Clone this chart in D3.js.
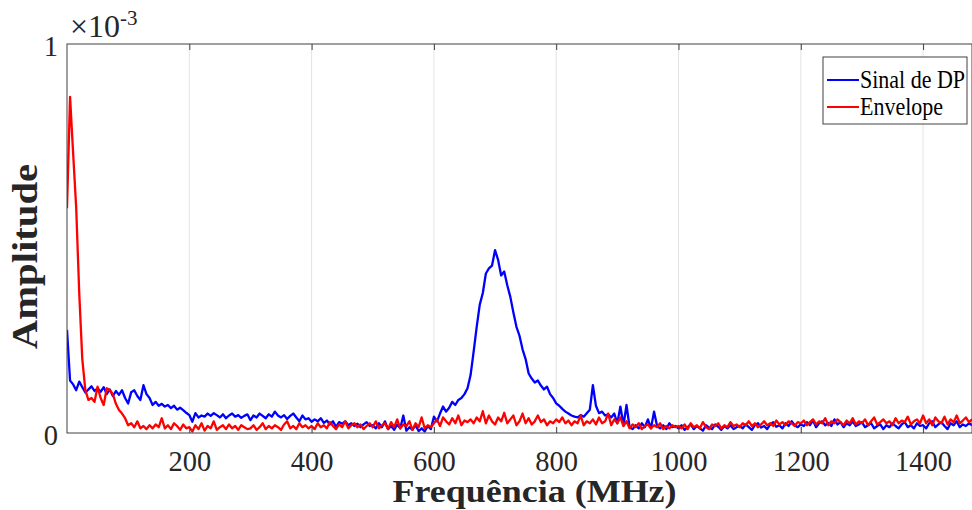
<!DOCTYPE html>
<html>
<head>
<meta charset="utf-8">
<script src="https://cdn.jsdelivr.net/npm/d3@7"></script>
<style>
  body { margin: 0; background: #fff; }
  svg { display: block; }
  svg text { font-family: 'Liberation Serif', 'Times New Roman', serif; }
</style>
</head>
<body>
<div id="chart"></div>
<script>
// frequency grid (MHz), one sample every 5 MHz
const freqStep = 5;
const xTicks = [200, 400, 600, 800, 1000, 1200, 1400];
const yTicks = [0, 1];

// amplitudes in units of 1e-3
const sinalDP = [
  0.265, 0.135, 0.125, 0.11, 0.132, 0.118, 0.104, 0.112, 0.12, 0.108, 0.115, 0.106, 0.118, 0.1, 0.112, 0.095, 0.108, 0.098, 0.11, 0.09,
  0.076, 0.105, 0.11, 0.095, 0.085, 0.123, 0.1, 0.09, 0.072, 0.08, 0.07, 0.075, 0.068, 0.072, 0.064, 0.07, 0.06, 0.065, 0.059, 0.052,
  0.046, 0.029, 0.051, 0.04, 0.045, 0.042, 0.05, 0.044, 0.051, 0.046, 0.04, 0.048, 0.038, 0.045, 0.05, 0.042, 0.046, 0.039, 0.044, 0.048,
  0.033, 0.045, 0.04, 0.05, 0.044, 0.038, 0.048, 0.042, 0.055, 0.045, 0.04, 0.046, 0.036, 0.044, 0.05, 0.04, 0.03, 0.045, 0.035, 0.038,
  0.029, 0.035, 0.03, 0.038, 0.026, 0.032, 0.022, 0.03, 0.016, 0.028, 0.024, 0.03, 0.02, 0.025, 0.018, 0.024, 0.015, 0.022, 0.028, 0.018,
  0.02, 0.012, 0.025, 0.015, 0.03, 0.01, 0.018, 0.008, 0.022, 0.012, 0.045, 0.006, 0.015, 0.008, 0.02, 0.005, 0.012, 0.004, 0.018, 0.01,
  0.042, 0.03, 0.05, 0.068, 0.055, 0.065, 0.08, 0.072, 0.085, 0.09, 0.1, 0.115, 0.149, 0.209, 0.273, 0.33, 0.36, 0.41, 0.423, 0.43,
  0.47, 0.445, 0.405, 0.415, 0.38, 0.35, 0.31, 0.273, 0.25, 0.215, 0.19, 0.153, 0.14, 0.13, 0.135, 0.122, 0.112, 0.119, 0.1, 0.09,
  0.076, 0.07, 0.062, 0.055, 0.05, 0.045, 0.042, 0.04, 0.046, 0.042, 0.051, 0.06, 0.123, 0.07, 0.051, 0.055, 0.045, 0.048, 0.04, 0.05,
  0.025, 0.068, 0.02, 0.072, 0.015, 0.01, 0.02, 0.012, 0.025, 0.015, 0.035, 0.012, 0.055, 0.018, 0.012, 0.02, 0.01, 0.025, 0.015, 0.018,
  0.012, 0.02, 0.008, 0.015, 0.022, 0.01, 0.018, 0.012, 0.006, 0.02, 0.014, 0.01, 0.022, 0.016, 0.008, 0.018, 0.012, 0.02, 0.01, 0.015,
  0.018, 0.012, 0.022, 0.015, 0.008, 0.02, 0.025, 0.014, 0.018, 0.01, 0.022, 0.028, 0.016, 0.02, 0.012, 0.025, 0.018, 0.03, 0.02, 0.015,
  0.022, 0.018, 0.028, 0.02, 0.032, 0.015, 0.025, 0.03, 0.02, 0.026, 0.018, 0.035, 0.022, 0.028, 0.015, 0.025, 0.02, 0.03, 0.018, 0.022,
  0.028, 0.015, 0.02, 0.025, 0.012, 0.018, 0.022, 0.01, 0.02, 0.015, 0.025, 0.018, 0.012, 0.022, 0.028, 0.015, 0.02, 0.012, 0.025, 0.018,
  0.02, 0.012, 0.025, 0.03, 0.015, 0.022, 0.028, 0.018, 0.01, 0.025, 0.02, 0.03, 0.015, 0.022, 0.018, 0.025, 0.02
];

const envelope = [
  0.578, 0.864, 0.72, 0.58, 0.36, 0.19, 0.11, 0.085, 0.09, 0.08, 0.119, 0.09, 0.072, 0.115, 0.11, 0.1, 0.075, 0.059, 0.05, 0.038,
  0.02, 0.025, 0.015, 0.03, 0.012, 0.018, 0.01, 0.02, 0.012, 0.022, 0.015, 0.038, 0.012, 0.02, 0.01, 0.025, 0.018, 0.008, 0.022, 0.012,
  0.015, 0.004, 0.02, 0.01, 0.025, 0.006, 0.018, 0.012, 0.03, 0.008, 0.015, 0.02, 0.01, 0.022, 0.012, 0.018, 0.008, 0.02, 0.015, 0.01,
  0.012, 0.02, 0.008, 0.015, 0.025, 0.01, 0.018, 0.012, 0.02, 0.015, 0.008, 0.022, 0.03, 0.012, 0.018, 0.01, 0.025, 0.015, 0.02, 0.012,
  0.018, 0.01, 0.025, 0.015, 0.02, 0.012, 0.028, 0.018, 0.01, 0.022, 0.015, 0.03, 0.012, 0.02, 0.025, 0.015, 0.022, 0.01, 0.018, 0.025,
  0.015, 0.03, 0.012, 0.02, 0.025, 0.01, 0.028, 0.015, 0.035, 0.012, 0.022, 0.018, 0.03, 0.008, 0.025, 0.015, 0.04, 0.012, 0.02, 0.015,
  0.025, 0.035, 0.018, 0.04, 0.03, 0.022, 0.038, 0.025, 0.045, 0.02, 0.032, 0.028, 0.035, 0.025, 0.04, 0.03, 0.056, 0.025, 0.045, 0.03,
  0.022, 0.04, 0.03, 0.052, 0.025, 0.035, 0.045, 0.02, 0.03, 0.05, 0.025, 0.038, 0.022, 0.03, 0.045, 0.028, 0.035, 0.02, 0.03, 0.025,
  0.035, 0.028, 0.04, 0.025, 0.032, 0.02, 0.03, 0.025, 0.045, 0.02, 0.03, 0.025, 0.035, 0.022, 0.04, 0.025, 0.03, 0.05, 0.02, 0.035,
  0.025, 0.04, 0.018, 0.03, 0.012, 0.022, 0.015, 0.025, 0.01, 0.018, 0.022, 0.012, 0.02, 0.015, 0.025, 0.01, 0.018, 0.012, 0.02, 0.015,
  0.018, 0.012, 0.022, 0.01, 0.025, 0.015, 0.02, 0.012, 0.028, 0.015, 0.01, 0.022, 0.018, 0.025, 0.012, 0.02, 0.015, 0.028, 0.018, 0.022,
  0.015, 0.025, 0.02, 0.03, 0.018, 0.025, 0.015, 0.022, 0.03, 0.02, 0.025, 0.018, 0.032, 0.022, 0.028, 0.02, 0.03, 0.025, 0.018, 0.028,
  0.025, 0.032, 0.02, 0.028, 0.035, 0.022, 0.03, 0.025, 0.038, 0.02, 0.03, 0.025, 0.035, 0.028, 0.02, 0.032, 0.025, 0.038, 0.022, 0.03,
  0.025, 0.035, 0.02, 0.03, 0.04, 0.022, 0.028, 0.035, 0.025, 0.03, 0.02, 0.038, 0.025, 0.032, 0.028, 0.042, 0.022, 0.03, 0.035, 0.025,
  0.045, 0.025, 0.035, 0.02, 0.04, 0.03, 0.025, 0.042, 0.022, 0.035, 0.028, 0.045, 0.025, 0.032, 0.04, 0.028, 0.035
];

const seriesList = [
  { name: "Sinal de DP", values: sinalDP, color: "#0000ff" },
  { name: "Envelope", values: envelope, color: "#ff0000" }
];

const W = 972, H = 510;
const margin = { top: 44, right: 0, bottom: 77, left: 67 };
const serif = "'Liberation Serif', 'Times New Roman', serif";

const svg = d3.select("#chart").append("svg")
  .attr("width", W)
  .attr("height", H)
  .attr("font-family", serif);

const x = d3.scaleLinear()
  .domain([0, 1480])
  .range([margin.left, W - margin.right]);

const y = d3.scaleLinear()
  .domain([0, 1])
  .range([H - margin.bottom, margin.top]);

// vertical grid
svg.append("g")
  .selectAll("line")
  .data(xTicks)
  .join("line")
  .attr("x1", d => x(d)).attr("x2", d => x(d))
  .attr("y1", y(0)).attr("y2", y(1))
  .attr("stroke", "#e3e3e3")
  .attr("stroke-width", 1);

// series
svg.append("clipPath").attr("id", "clip")
  .append("rect")
  .attr("x", x(0)).attr("y", y(1))
  .attr("width", x(1480) - x(0)).attr("height", y(0) - y(1));

const line = d3.line()
  .x((d, i) => x(i * freqStep))
  .y(d => y(d));

seriesList.forEach(s => {
  svg.append("path")
    .datum(s.values)
    .attr("clip-path", "url(#clip)")
    .attr("fill", "none")
    .attr("stroke", s.color)
    .attr("stroke-width", 2.3)
    .attr("stroke-linejoin", "round")
    .attr("d", line);
});

// box
svg.append("rect")
  .attr("x", x(0)).attr("y", y(1))
  .attr("width", x(1480) - x(0)).attr("height", y(0) - y(1))
  .attr("fill", "none")
  .attr("stroke", "#404040")
  .attr("stroke-width", 1);

// x axis (bottom + top ticks)
const xAxis = svg.append("g")
  .attr("transform", `translate(0, ${y(0)})`)
  .call(d3.axisBottom(x).tickValues(xTicks).tickSize(-6).tickPadding(0).tickFormat(d3.format("d")))
  .attr("font-family", serif)
  .attr("font-size", "28.5px");
xAxis.select(".domain").remove();
xAxis.selectAll(".tick line").attr("stroke", "#404040");
xAxis.selectAll(".tick text")
  .attr("y", 0).attr("dy", null)
  .attr("transform", "translate(0, 38) scale(1, 1.06)")
  .attr("fill", "#262626");

const xTop = svg.append("g")
  .attr("transform", `translate(0, ${y(1)})`)
  .call(d3.axisTop(x).tickValues(xTicks).tickSize(-6).tickFormat(""));
xTop.select(".domain").remove();
xTop.selectAll(".tick line").attr("stroke", "#404040");

// y axis
const yAxis = svg.append("g")
  .attr("transform", `translate(${x(0)}, 0)`)
  .call(d3.axisLeft(y).tickValues(yTicks).tickSize(0).tickPadding(0).tickFormat(d3.format("d")))
  .attr("font-family", serif)
  .attr("font-size", "28.5px");
yAxis.select(".domain").remove();
yAxis.selectAll(".tick text")
  .attr("x", 0).attr("dy", null)
  .attr("text-anchor", "middle")
  .attr("transform", "translate(-16, 11) scale(1, 1.06)")
  .attr("fill", "#262626");

// exponent label
const expo = svg.append("text")
  .attr("x", x(0) + 3)
  .attr("y", 37)
  .attr("fill", "#262626")
  .attr("font-size", "32px");
expo.append("tspan").text("×10");
expo.append("tspan").attr("dy", -12).attr("font-size", "21px").text("-3");

// axis labels
svg.append("text")
  .attr("transform", `translate(${(x(0) + x(1480)) / 2 + 15}, 502) scale(1, 0.9)`)
  .attr("text-anchor", "middle")
  .attr("fill", "#262626")
  .attr("font-size", "36px")
  .attr("font-weight", "bold")
  .text("Frequência (MHz)");

svg.append("text")
  .attr("transform", `translate(37, ${(y(0) + y(1)) / 2 + 18}) scale(1, 1.13) rotate(-90)`)
  .attr("text-anchor", "middle")
  .attr("fill", "#262626")
  .attr("font-size", "36px")
  .attr("font-weight", "bold")
  .text("Amplitude");

// legend
const lg = svg.append("g").attr("transform", "translate(823, 57)");
lg.append("rect")
  .attr("width", 144).attr("height", 67)
  .attr("fill", "#fff")
  .attr("stroke", "#404040")
  .attr("stroke-width", 1);
seriesList.forEach((s, i) => {
  const yy = 23 + i * 27;
  lg.append("line")
    .attr("x1", 4).attr("x2", 36)
    .attr("y1", yy).attr("y2", yy)
    .attr("stroke", s.color).attr("stroke-width", 2);
  lg.append("text")
    .attr("transform", `translate(37, ${yy + 8}) scale(1, 1.13)`)
    .attr("fill", "#000")
    .attr("font-size", "22px")
    .text(s.name);
});
</script>
</body>
</html>
